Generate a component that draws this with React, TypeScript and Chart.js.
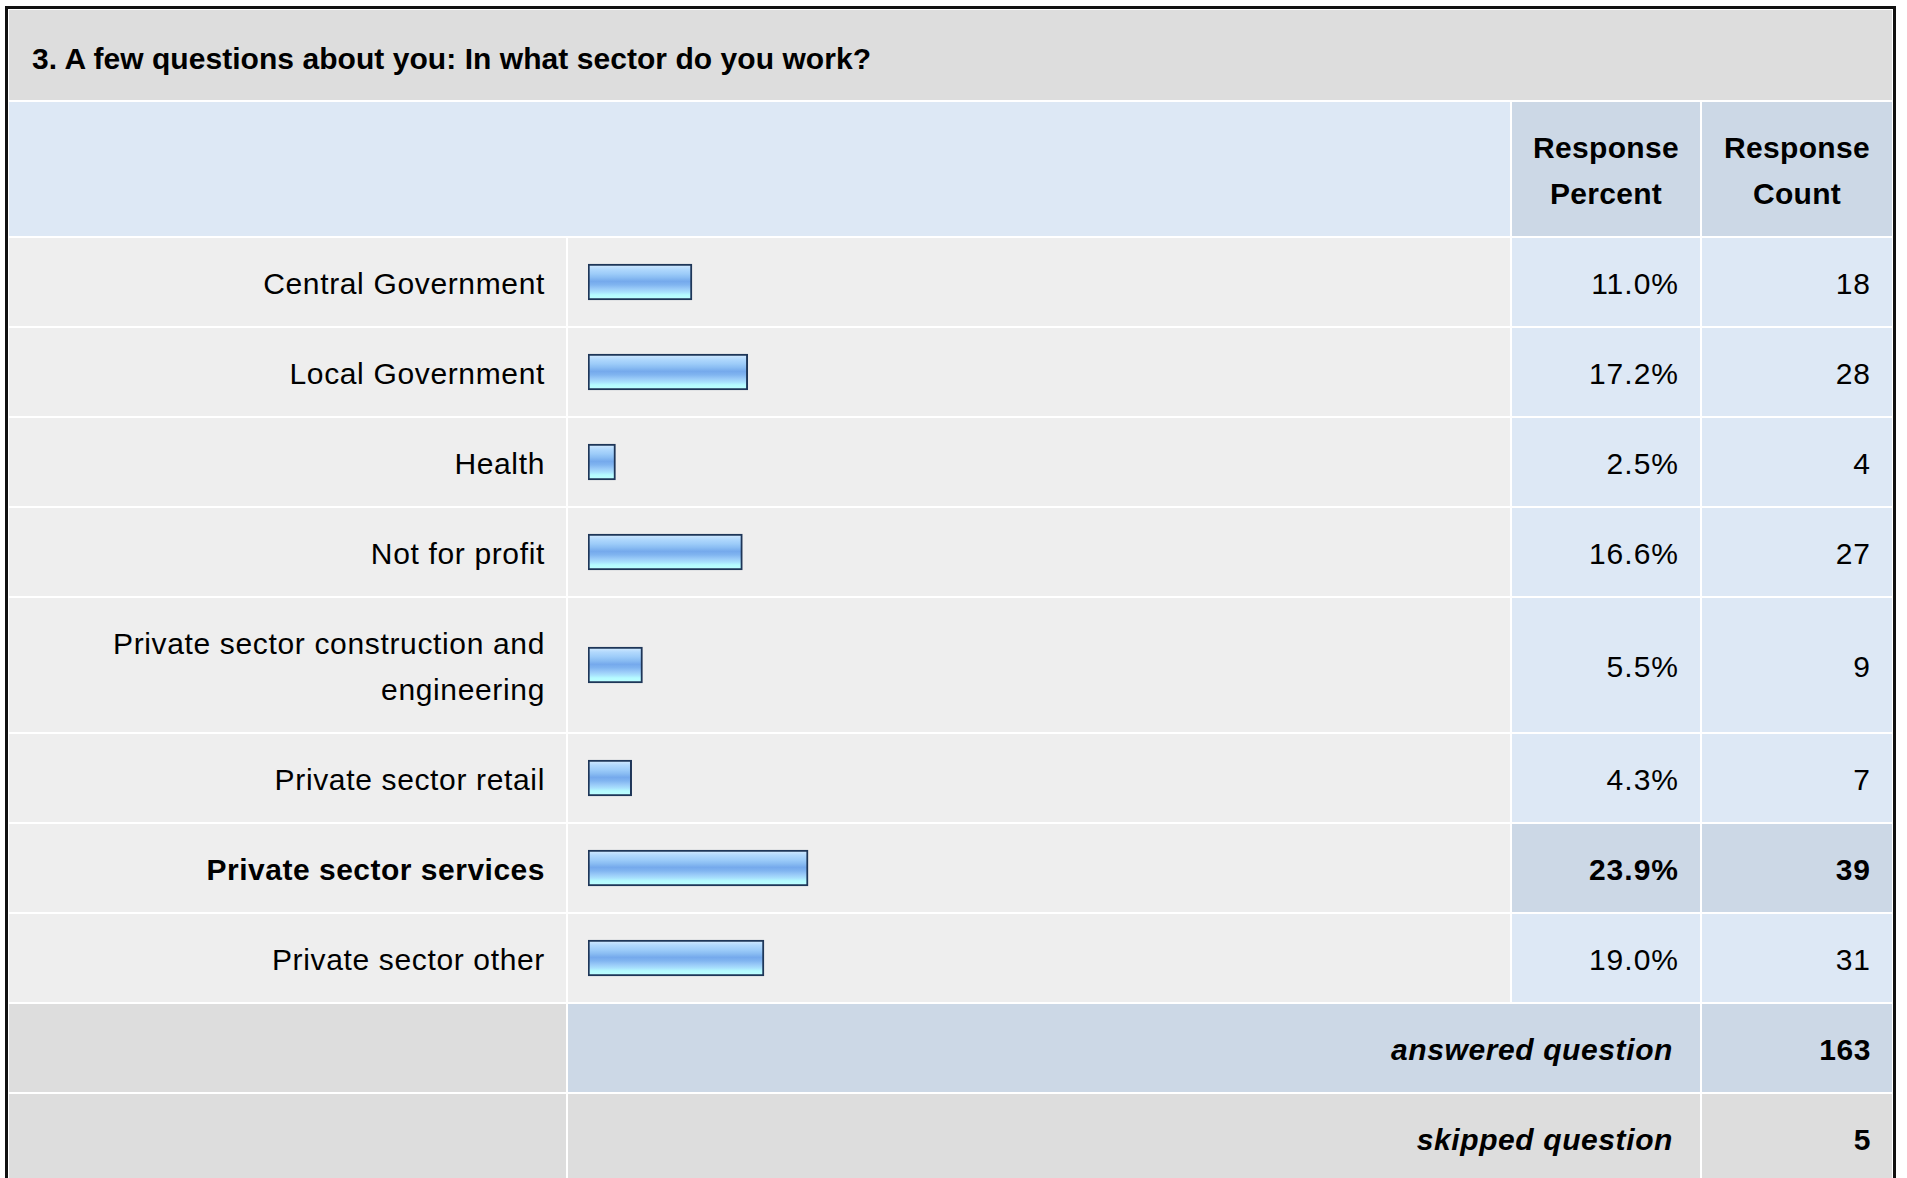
import React, { useEffect, useRef } from "react";
import { Chart, registerables } from "chart.js";

Chart.register(...registerables);

const TITLE = "3. A few questions about you: In what sector do you work?";
const HEADER_PERCENT = "Response Percent";
const HEADER_COUNT = "Response Count";
const CATEGORIES = [
  "Central Government",
  "Local Government",
  "Health",
  "Not for profit",
  "Private sector construction and engineering",
  "Private sector retail",
  "Private sector services",
  "Private sector other",
];
const PERCENTS = [11.0, 17.2, 2.5, 16.6, 5.5, 4.3, 23.9, 19.0];
const COUNTS = [18, 28, 4, 27, 9, 7, 39, 31];
const ANSWERED_LABEL = "answered question";
const SKIPPED_LABEL = "skipped question";
const ANSWERED = 163;
const SKIPPED = 5;

const X_BASE = -0.55;
const X_MAX = 100;

const FONT = '"Liberation Sans", Arial, Helvetica, sans-serif';
const C_TITLE = "#dddddd";
const C_ROW = "#eeeeee";
const C_LIGHTBLUE = "#dde8f5";
const C_BLUE = "#ccd8e6";
const BAR_BORDER = "#1e3658";

function BarCell({ label, value }: { label: string; value: number }) {
  const ref = useRef<HTMLCanvasElement>(null);
  useEffect(() => {
    const chart = new Chart(ref.current as HTMLCanvasElement, {
      type: "bar",
      data: {
        labels: [label],
        datasets: [
          {
            data: [value],
            base: X_BASE,
            backgroundColor: (c: any) => {
              const { ctx, chartArea } = c.chart;
              if (!chartArea) return "#94c4f6";
              const cy = (chartArea.top + chartArea.bottom) / 2;
              const g = ctx.createLinearGradient(0, cy - 17, 0, cy + 17);
              g.addColorStop(0, "#d2eaff");
              g.addColorStop(0.12, "#b2d9fd");
              g.addColorStop(0.26, "#9dccf9");
              g.addColorStop(0.38, "#88bbf2");
              g.addColorStop(0.48, "#75a9ec");
              g.addColorStop(0.58, "#80b4f0");
              g.addColorStop(0.7, "#9acbf8");
              g.addColorStop(0.8, "#a9e2fd");
              g.addColorStop(0.88, "#b5fbff");
              g.addColorStop(1, "#bdffff");
              return g;
            },
            borderColor: BAR_BORDER,
            borderWidth: 2,
            borderSkipped: false,
            barThickness: 36,
          } as any,
        ],
      },
      options: {
        indexAxis: "y",
        animation: false,
        responsive: true,
        maintainAspectRatio: false,
        events: [],
        layout: { padding: { left: 20, right: 17, top: 0, bottom: 0 } },
        scales: {
          x: { type: "linear", min: X_BASE, max: X_MAX, display: false },
          y: { type: "category", display: false },
        },
        plugins: { legend: { display: false }, tooltip: { enabled: false } },
      },
    });
    return () => chart.destroy();
  }, [label, value]);
  return (
    <div style={{ position: "absolute", left: 0, top: 0, right: 0, bottom: 0 }}>
      <canvas ref={ref} />
    </div>
  );
}

const cellBase: React.CSSProperties = {
  display: "flex",
  alignItems: "center",
  boxSizing: "border-box",
  padding: "23px 22px 19px 22px",
  lineHeight: "46px",
};

export default function App() {
  const maxIdx = PERCENTS.indexOf(Math.max(...PERCENTS));
  const cells: React.ReactNode[] = [];

  cells.push(
    <div
      key="title"
      style={{
        ...cellBase,
        gridColumn: "1 / span 4",
        background: C_TITLE,
        fontWeight: "bold",
        letterSpacing: "0.05px",
        padding: "26px 22px 18px 23px",
      }}
    >
      {TITLE}
    </div>
  );
  cells.push(
    <div key="h0" style={{ ...cellBase, gridColumn: "1 / span 2", background: C_LIGHTBLUE }} />
  );
  cells.push(
    <div
      key="h1"
      style={{ ...cellBase, background: C_BLUE, fontWeight: "bold", letterSpacing: "0.3px", justifyContent: "center", textAlign: "center", padding: "23px 10px 19px 10px" }}
    >
      {HEADER_PERCENT}
    </div>
  );
  cells.push(
    <div
      key="h2"
      style={{ ...cellBase, background: C_BLUE, fontWeight: "bold", letterSpacing: "0.3px", justifyContent: "center", textAlign: "center", padding: "23px 10px 19px 10px" }}
    >
      {HEADER_COUNT}
    </div>
  );

  CATEGORIES.forEach((cat, i) => {
    const hi = i === maxIdx;
    cells.push(
      <div
        key={"l" + i}
        style={{
          ...cellBase,
          background: C_ROW,
          justifyContent: "flex-end",
          textAlign: "right",
          fontWeight: hi ? "bold" : "normal",
          letterSpacing: hi ? "0.5px" : "0.65px",
          paddingLeft: 60,
          paddingRight: 21,
        }}
      >
        {cat}
      </div>
    );
    cells.push(
      <div key={"b" + i} style={{ position: "relative", background: C_ROW }}>
        <BarCell label={cat} value={PERCENTS[i]} />
      </div>
    );
    cells.push(
      <div
        key={"p" + i}
        style={{
          ...cellBase,
          background: hi ? C_BLUE : C_LIGHTBLUE,
          justifyContent: "flex-end",
          fontWeight: hi ? "bold" : "normal",
          letterSpacing: "1px",
          paddingRight: 21,
        }}
      >
        {PERCENTS[i].toFixed(1) + "%"}
      </div>
    );
    cells.push(
      <div
        key={"c" + i}
        style={{
          ...cellBase,
          background: hi ? C_BLUE : C_LIGHTBLUE,
          justifyContent: "flex-end",
          fontWeight: hi ? "bold" : "normal",
          letterSpacing: "1px",
          paddingRight: 21,
        }}
      >
        {String(COUNTS[i])}
      </div>
    );
  });

  cells.push(<div key="a0" style={{ ...cellBase, background: C_TITLE }} />);
  cells.push(
    <div
      key="a1"
      style={{
        ...cellBase,
        gridColumn: "2 / span 2",
        background: C_BLUE,
        justifyContent: "flex-end",
        fontWeight: "bold",
        fontStyle: "italic",
        letterSpacing: "0.6px",
        paddingRight: 27,
      }}
    >
      {ANSWERED_LABEL}
    </div>
  );
  cells.push(
    <div key="a2" style={{ ...cellBase, background: C_BLUE, justifyContent: "flex-end", fontWeight: "bold", letterSpacing: "0.6px", paddingRight: 21 }}>
      {String(ANSWERED)}
    </div>
  );
  cells.push(<div key="s0" style={{ ...cellBase, background: C_TITLE }} />);
  cells.push(
    <div
      key="s1"
      style={{
        ...cellBase,
        gridColumn: "2 / span 2",
        background: C_TITLE,
        justifyContent: "flex-end",
        fontWeight: "bold",
        fontStyle: "italic",
        letterSpacing: "0.6px",
        paddingRight: 27,
      }}
    >
      {SKIPPED_LABEL}
    </div>
  );
  cells.push(
    <div key="s2" style={{ ...cellBase, background: C_TITLE, justifyContent: "flex-end", fontWeight: "bold", letterSpacing: "0.6px", paddingRight: 21 }}>
      {String(SKIPPED)}
    </div>
  );

  return (
    <div
      style={{
        position: "absolute",
        left: 5,
        top: 6,
        width: 1891,
        height: 1172,
        boxSizing: "border-box",
        borderTop: "3px solid #111",
        borderLeft: "3px solid #111",
        borderRight: "3px solid #111",
        padding: 1,
        background: "#ffffff",
        overflow: "hidden",
        fontFamily: FONT,
        fontSize: 30,
        color: "#000",
      }}
    >
      <div
        style={{
          display: "grid",
          gridTemplateColumns: "557px 942px 188px 190px",
          columnGap: 2,
          rowGap: 2,
          width: 1883,
        }}
      >
        {cells}
      </div>
    </div>
  );
}
